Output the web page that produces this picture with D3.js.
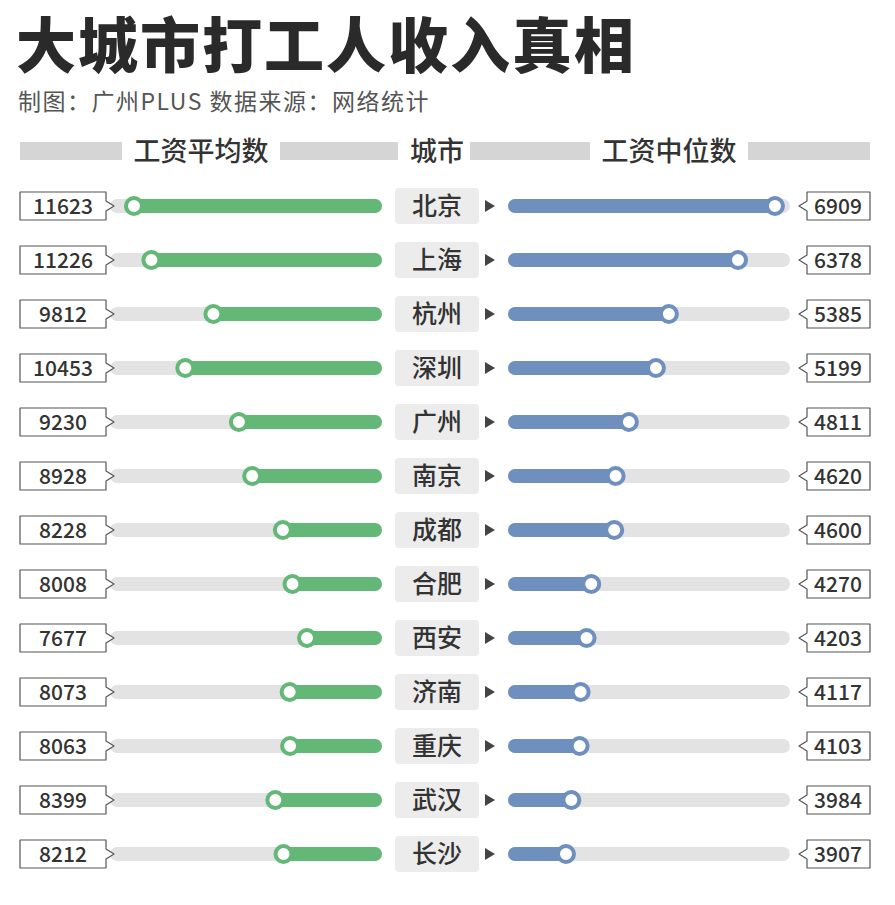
<!DOCTYPE html>
<html><head><meta charset="utf-8">
<script src="https://cdn.jsdelivr.net/npm/d3@7"></script>
<style>body{margin:0;background:#fff}svg{font-family:"Noto Sans CJK SC","Noto Sans",sans-serif}</style>
</head><body><svg id="c" width="895" height="905"></svg>
<script>
const cities = ['北京','上海','杭州','深圳','广州','南京','成都','合肥','西安','济南','重庆','武汉','长沙']
const meanWage = [11623,11226,9812,10453,9230,8928,8228,8008,7677,8073,8063,8399,8212]
const medianWage = [6909,6378,5385,5199,4811,4620,4600,4270,4203,4117,4103,3984,3907]

const svg = d3.select('#c')
const green = '#63b878', blue = '#6f8fbf', track = '#e3e3e3', ink = '#333'

// title
svg.append('text').attr('x', 16).attr('y', 68).attr('font-size', 60).attr('font-weight', 900)
	.attr('letter-spacing', 2).attr('fill', '#2a2a2a').text('大城市打工人收入真相')
svg.append('text').attr('x', 18).attr('y', 110).attr('font-size', 23).attr('fill', '#555')
	.attr('letter-spacing', 1.5).text('制图：广州PLUS  数据来源：网络统计')

// header
const hy = 151
;[[20,122],[280,398],[470,590],[748,870]].forEach(([a,b]) =>
	svg.append('rect').attr('x', a).attr('y', hy-9).attr('width', b-a).attr('height', 18).attr('fill', '#d5d5d5'))
;[['工资平均数',201],['城市',437],['工资中位数',669]].forEach(([t,x]) =>
	svg.append('text').attr('x', x).attr('y', hy+10).attr('text-anchor','middle').attr('font-size', 27)
		.attr('font-weight', 500).attr('fill', ink).text(t))

const y = d3.scaleBand().domain(cities).range([179, 881]).paddingInner(0)
const xl = d3.scaleLinear().domain([12170, 5966]).range([110, 382])
const xr = d3.scaleLinear().domain([3074, 7125]).range([508, 790])
const cap = 7

const rows = svg.selectAll('g.row').data(cities).join('g')
	.attr('transform', d => `translate(0,${y(d) + y.bandwidth()/2})`)

rows.each(function(c, i) {
	const g = d3.select(this)
	const line = (x1, x2, col) => g.append('line').attr('x1', x1).attr('x2', x2)
		.attr('stroke', col).attr('stroke-width', 14).attr('stroke-linecap', 'round')
	// left
	line(xl.range()[0] + cap, xl.range()[1] - cap, track)
	line(xl(meanWage[i]), xl.range()[1] - cap, green)
	g.append('circle').attr('cx', xl(meanWage[i])).attr('r', 8).attr('fill', '#fff')
		.attr('stroke', green).attr('stroke-width', 4)
	// right
	line(xr.range()[0] + cap, xr.range()[1] - cap, track)
	line(xr.range()[0] + cap, xr(medianWage[i]), blue)
	g.append('circle').attr('cx', xr(medianWage[i])).attr('r', 8).attr('fill', '#fff')
		.attr('stroke', blue).attr('stroke-width', 4)
	// value boxes with pointer
	g.append('path').attr('d', 'M20,-14H106V-5L114,0L106,5V14H20Z').attr('fill', '#fff')
		.attr('stroke', '#555').attr('stroke-width', 1.2).attr('stroke-linejoin', 'round')
	g.append('text').attr('x', 63).attr('y', 8).attr('text-anchor', 'middle').attr('font-size', 21)
		.attr('font-weight', 500).attr('fill', ink).text(meanWage[i])
	g.append('path').attr('d', 'M870,-14H807V-5L799,0L807,5V14H870Z').attr('fill', '#fff')
		.attr('stroke', '#555').attr('stroke-width', 1.2).attr('stroke-linejoin', 'round')
	g.append('text').attr('x', 838).attr('y', 8).attr('text-anchor', 'middle').attr('font-size', 21)
		.attr('font-weight', 500).attr('fill', ink).text(medianWage[i])
	// city label
	g.append('rect').attr('x', 395).attr('y', -18).attr('width', 84).attr('height', 36).attr('rx', 4).attr('fill', '#ececec')
	g.append('text').attr('x', 437).attr('y', 9).attr('text-anchor', 'middle').attr('font-size', 25)
		.attr('font-weight', 500).attr('fill', ink).text(c)
	g.append('path').attr('d', 'M485,-6L495,0L485,6Z').attr('fill', '#444')
})
</script></body></html>
